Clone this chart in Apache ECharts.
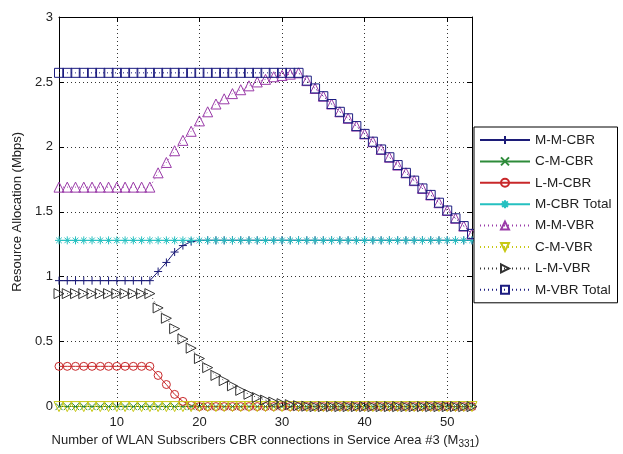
<!DOCTYPE html>
<html>
<head>
<meta charset="utf-8">
<script src="https://cdn.jsdelivr.net/npm/echarts@6/dist/echarts.min.js"></script>
<style>
  html, body { margin: 0; padding: 0; background: #fff; }
  #chart { width: 623px; height: 454px; }
</style>
</head>
<body>
<div id="chart"></div>
<script>
// Number of WLAN subscribers' CBR connections in service area #3
const subscribers = [3, 4, 5, 6, 7, 8, 9, 10, 11, 12, 13, 14, 15, 16, 17, 18, 19, 20, 21, 22, 23, 24, 25, 26, 27, 28,
  29, 30, 31, 32, 33, 34, 35, 36, 37, 38, 39, 40, 41, 42, 43, 44, 45, 46, 47, 48, 49, 50, 51, 52, 53];

// Resource allocation in Mbps, one value per subscriber count
const mmCbr = [0.97, 0.97, 0.97, 0.97, 0.97, 0.97, 0.97, 0.97, 0.97, 0.97, 0.97, 0.97, 1.04, 1.11, 1.19, 1.24, 1.27,
  1.28, 1.28, 1.28, 1.28, 1.28, 1.28, 1.28, 1.28, 1.28, 1.28, 1.28, 1.28, 1.28, 1.28, 1.28, 1.28, 1.28, 1.28, 1.28,
  1.28, 1.28, 1.28, 1.28, 1.28, 1.28, 1.28, 1.28, 1.28, 1.28, 1.28, 1.28, 1.28, 1.28, 1.28];
const cmCbr = [0, 0, 0, 0, 0, 0, 0, 0, 0, 0, 0, 0, 0, 0, 0, 0, 0, 0, 0, 0, 0, 0, 0, 0, 0, 0, 0, 0, 0, 0, 0, 0, 0, 0,
  0, 0, 0, 0, 0, 0, 0, 0, 0, 0, 0, 0, 0, 0, 0, 0, 0];
const lmCbr = [0.31, 0.31, 0.31, 0.31, 0.31, 0.31, 0.31, 0.31, 0.31, 0.31, 0.31, 0.31, 0.24, 0.17, 0.094, 0.04, 0.01,
  0, 0, 0, 0, 0, 0, 0, 0, 0, 0, 0, 0, 0, 0, 0, 0, 0, 0, 0, 0, 0, 0, 0, 0, 0, 0, 0, 0, 0, 0, 0, 0, 0, 0];
const mCbrTotal = [1.28, 1.28, 1.28, 1.28, 1.28, 1.28, 1.28, 1.28, 1.28, 1.28, 1.28, 1.28, 1.28, 1.28, 1.28, 1.28,
  1.28, 1.28, 1.28, 1.28, 1.28, 1.28, 1.28, 1.28, 1.28, 1.28, 1.28, 1.28, 1.28, 1.28, 1.28, 1.28, 1.28, 1.28, 1.28,
  1.28, 1.28, 1.28, 1.28, 1.28, 1.28, 1.28, 1.28, 1.28, 1.28, 1.28, 1.28, 1.28, 1.28, 1.28, 1.28];
const mmVbr = [1.69, 1.69, 1.69, 1.69, 1.69, 1.69, 1.69, 1.69, 1.69, 1.69, 1.69, 1.69, 1.80, 1.88, 1.97, 2.05, 2.12,
  2.20, 2.27, 2.33, 2.37, 2.41, 2.44, 2.47, 2.50, 2.52, 2.54, 2.55, 2.56, 2.57, 2.51, 2.45, 2.39, 2.33, 2.27, 2.22,
  2.16, 2.10, 2.04, 1.98, 1.92, 1.86, 1.80, 1.74, 1.68, 1.63, 1.57, 1.51, 1.45, 1.39, 1.33];
const cmVbr = [0, 0, 0, 0, 0, 0, 0, 0, 0, 0, 0, 0, 0, 0, 0, 0, 0, 0, 0, 0, 0, 0, 0, 0, 0, 0, 0, 0, 0, 0, 0, 0, 0, 0,
  0, 0, 0, 0, 0, 0, 0, 0, 0, 0, 0, 0, 0, 0, 0, 0, 0];
const lmVbr = [0.87, 0.87, 0.87, 0.87, 0.87, 0.87, 0.87, 0.87, 0.87, 0.87, 0.87, 0.87, 0.76, 0.68, 0.60, 0.52, 0.45,
  0.37, 0.30, 0.24, 0.20, 0.16, 0.125, 0.095, 0.07, 0.05, 0.035, 0.023, 0.015, 0.007, 0.003, 0, 0, 0, 0, 0, 0, 0,
  0, 0, 0, 0, 0, 0, 0, 0, 0, 0, 0, 0, 0];
const mVbrTotal = [2.57, 2.57, 2.57, 2.57, 2.57, 2.57, 2.57, 2.57, 2.57, 2.57, 2.57, 2.57, 2.57, 2.57, 2.57, 2.57,
  2.57, 2.57, 2.57, 2.57, 2.57, 2.57, 2.57, 2.57, 2.57, 2.57, 2.57, 2.57, 2.57, 2.57, 2.51, 2.45, 2.39, 2.33, 2.27,
  2.22, 2.16, 2.10, 2.04, 1.98, 1.92, 1.86, 1.80, 1.74, 1.68, 1.63, 1.57, 1.51, 1.45, 1.39, 1.33];

const xTicks = [10, 20, 30, 40, 50];

// Marker glyphs (hollow, stroke only)
const SYM = {
  plus: 'path://M0,5L10,5M5,0L5,10',
  cross: 'path://M0,0L10,10M10,0L0,10',
  star: 'path://M0,5L10,5M5,0L5,10M1.5,1.5L8.5,8.5M8.5,1.5L1.5,8.5',
  circle: 'circle',
  triUp: 'triangle',
  triDown: 'path://M0,0L10,0L5,10Z',
  triRight: 'path://M0,0L10,5L0,10Z',
  square: 'rect'
};

function makeSeries(name, values, color, symbol, size, dash) {
  return {
    name: name,
    type: 'line',
    data: subscribers.map((x, i) => [x, values[i]]),
    symbol: symbol,
    symbolSize: size,
    showSymbol: true,
    showAllSymbol: true,
    lineStyle: { color: color, width: 1, type: dash ? [1, 3] : 'solid' },
    itemStyle: { color: 'rgba(0,0,0,0)', borderColor: color, borderWidth: 1 },
    emphasis: { disabled: true },
    animation: false
  };
}

const series = [
  makeSeries('M-M-CBR', mmCbr, '#1c1c78', SYM.plus, 8, false),
  makeSeries('C-M-CBR', cmCbr, '#2e8b3a', SYM.cross, 7, false),
  makeSeries('L-M-CBR', lmCbr, '#c8282a', SYM.circle, 8, false),
  makeSeries('M-CBR Total', mCbrTotal, '#25c0c0', SYM.star, 8, false),
  makeSeries('M-M-VBR', mmVbr, '#9a3aa8', SYM.triUp, 10, true),
  makeSeries('C-M-VBR', cmVbr, '#c8c814', SYM.triDown, 10, true),
  makeSeries('L-M-VBR', lmVbr, '#333333', SYM.triRight, 10, true),
  makeSeries('M-VBR Total', mVbrTotal, '#1c1c80', SYM.square, 9, true)
];

const gridLine = { show: true, lineStyle: { color: '#333', width: 1, type: [1, 3] } };
const tickStyle = { show: true, inside: true, length: 5, lineStyle: { color: '#000' } };
const axisFont = { fontFamily: 'Liberation Sans, Arial, sans-serif', fontSize: 13, color: '#222' };

const chart = echarts.init(document.getElementById('chart'), null, { renderer: 'canvas' });
chart.setOption({
  backgroundColor: '#fff',
  animation: false,
  grid: { left: 59, right: 151, top: 17, bottom: 44, containLabel: false },
  legend: {
    orient: 'vertical',
    left: 474,
    top: 127,
    padding: [6, 6, 6, 5],
    itemWidth: 50,
    itemHeight: 10,
    itemGap: 7.4,
    borderColor: '#000',
    borderWidth: 1,
    backgroundColor: '#fff',
    textStyle: { fontFamily: 'Liberation Sans, Arial, sans-serif', fontSize: 13.5, color: '#222' },
    data: series.map(s => s.name)
  },
  xAxis: [
    {
      type: 'value', min: 3, max: 53, position: 'bottom',
      axisLine: { show: true, onZero: false, lineStyle: { color: '#000' } },
      axisTick: Object.assign({ customValues: xTicks }, tickStyle),
      axisLabel: Object.assign({ customValues: xTicks, margin: 9 }, axisFont),
      splitLine: gridLine,
      name: 'Number of WLAN Subscribers CBR connections in Service Area #3 (M{sub|331})',
      nameLocation: 'middle',
      nameGap: 23,
      nameTextStyle: Object.assign({
        rich: { sub: Object.assign({}, axisFont, { fontSize: 10, verticalAlign: 'bottom', padding: [8, 0, 0, 0] }) }
      }, axisFont)
    },
    {
      type: 'value', min: 3, max: 53, position: 'top',
      axisLine: { show: true, onZero: false, lineStyle: { color: '#000' } },
      axisTick: Object.assign({ customValues: xTicks }, tickStyle),
      axisLabel: { show: false },
      splitLine: { show: false }
    }
  ],
  yAxis: [
    {
      type: 'value', min: 0, max: 3, interval: 0.5, position: 'left',
      axisLine: { show: true, onZero: false, lineStyle: { color: '#000' } },
      axisTick: tickStyle,
      axisLabel: Object.assign({ margin: 6 }, axisFont),
      splitLine: gridLine,
      name: 'Resource Allocation (Mbps)',
      nameLocation: 'middle',
      nameGap: 35,
      nameTextStyle: axisFont
    },
    {
      type: 'value', min: 0, max: 3, interval: 0.5, position: 'right',
      axisLine: { show: true, onZero: false, lineStyle: { color: '#000' } },
      axisTick: tickStyle,
      axisLabel: { show: false },
      splitLine: { show: false }
    }
  ],
  series: series
});
</script>
</body>
</html>
